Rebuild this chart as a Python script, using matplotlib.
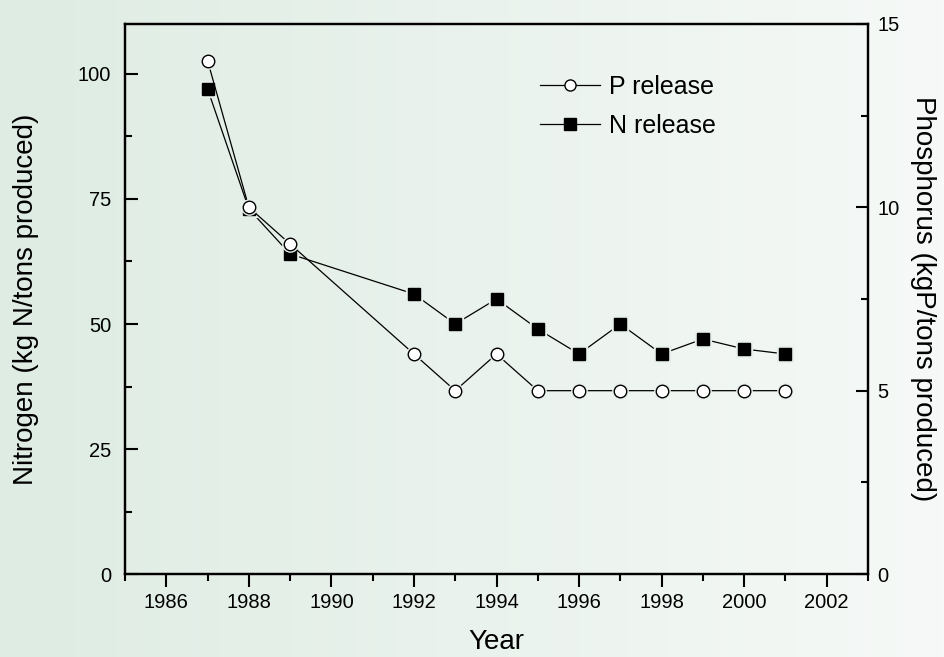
import matplotlib.pyplot as plt
import numpy as np
from matplotlib.ticker import MultipleLocator

plt.rcParams['font.family'] = ['Liberation Sans', 'DejaVu Sans']

# data
years = [1987, 1988, 1989, 1992, 1993, 1994, 1995, 1996, 1997, 1998, 1999, 2000, 2001]
n_release = [97, 73, 64, 56, 50, 55, 49, 44, 50, 44, 47, 45, 44]
p_release = [14, 10, 9, 6, 5, 6, 5, 5, 5, 5, 5, 5, 5]

fig = plt.figure(figsize=(9.45, 6.57), dpi=100)

# background gradient, light green on the left fading to near white
bg = fig.add_axes([0, 0, 1, 1], zorder=-10)
grad = np.linspace(0, 1, 256).reshape(1, -1)
left_col = np.array([222, 236, 227]) / 255
right_col = np.array([246, 249, 247]) / 255
img = left_col[None, None, :] * (1 - grad[..., None]) + right_col[None, None, :] * grad[..., None]
bg.imshow(img, aspect='auto', extent=[0, 1, 0, 1])
bg.set_axis_off()

ax = fig.add_axes([0.1323, 0.1263, 0.7862, 0.8372])
ax.set_facecolor('none')
ax2 = ax.twinx()

halo = '#e7f0ea'

# N release on left axis
ax.plot(years, n_release, '-', color='black', lw=0.9, zorder=2)
ax.plot(years, n_release, 's', ms=11, mfc=halo, mec=halo, zorder=3)
ax.plot(years, n_release, 's', ms=9, mfc='black', mec='black', zorder=4)

# P release on right axis
ax2.plot(years, p_release, '-', color='black', lw=0.9, zorder=2)
ax2.plot(years, p_release, 'o', ms=11, mfc=halo, mec=halo, zorder=3)
ax2.plot(years, p_release, 'o', ms=9, mfc='white', mec='black', mew=1.0, zorder=4)

ax.set_xlim(1985, 2003)
ax.set_ylim(0, 110)
ax2.set_ylim(0, 15)

ax.set_xticks(range(1986, 2003, 2))
ax.xaxis.set_minor_locator(MultipleLocator(1))
ax.yaxis.set_major_locator(MultipleLocator(25))
ax.yaxis.set_minor_locator(MultipleLocator(12.5))
ax2.yaxis.set_major_locator(MultipleLocator(5))
ax2.yaxis.set_minor_locator(MultipleLocator(2.5))

for a in (ax, ax2):
    for s in a.spines.values():
        s.set_linewidth(1.6)

ax.tick_params(axis='x', which='major', direction='out', length=9, width=1.5,
               labelsize=14.5, pad=5)
ax.tick_params(axis='x', which='minor', direction='out', length=5, width=1.5)
ax.tick_params(axis='y', which='major', direction='in', length=9, width=1.5,
               labelsize=14.5, pad=10)
ax.tick_params(axis='y', which='minor', direction='in', length=5, width=1.5)
ax2.tick_params(axis='y', which='major', direction='in', length=9, width=1.5,
                labelsize=14.5, pad=7)
ax2.tick_params(axis='y', which='minor', direction='in', length=5, width=1.5)

ax.set_xlabel('Year', fontsize=20, labelpad=12)
ax.set_ylabel('Nitrogen (kg N/tons produced)', fontsize=20, labelpad=28)
ax2.set_ylabel('Phosphorus (kgP/tons produced)', fontsize=20, rotation=-90, labelpad=26)

# legend (handles built from the same styles as the series)
h_p, = ax2.plot([], [], '-o', color='black', lw=0.9, ms=8, mfc='white', mec='black')
h_n, = ax2.plot([], [], '-s', color='black', lw=0.9, ms=8, mfc='black', mec='black')
leg = ax2.legend([h_p, h_n], ['P release', 'N release'], loc='upper left',
                 bbox_to_anchor=(0.571, 0.886), bbox_transform=fig.transFigure,
                 frameon=False, fontsize=18, handlelength=2.4, handletextpad=0.36,
                 labelspacing=0.6, borderaxespad=0, borderpad=0)

fig.savefig('out.png', dpi=100)
